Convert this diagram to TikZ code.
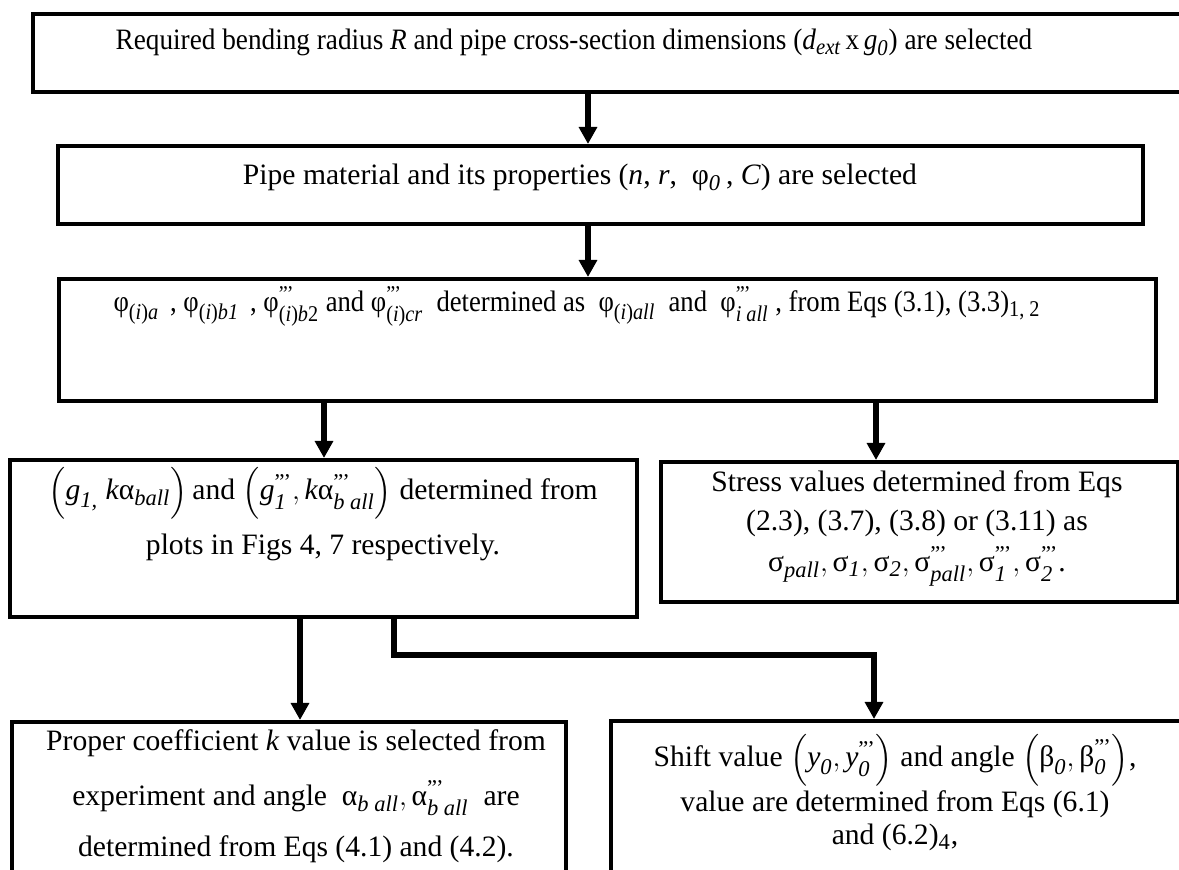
\documentclass[tikz,border=0pt]{standalone}
\usepackage{amsmath}
\usepackage{fontspec}
\setmainfont{Liberation Serif}
\usetikzlibrary{arrows.meta}
\def\defaultscriptratio{.76}
\newcommand{\tpr}{^{\text{''\kern-0.5pt'}}}
\newcommand{\subi}[1]{_{\text{(\textit{i})\textit{#1}}}}
\tikzset{
  box/.style={draw, line width=2pt, anchor=north west, inner sep=0pt},
  arr/.style={line width=2.6pt, -{Triangle[width=8.8pt,length=8.5pt]}},
  txt/.style={anchor=base, inner sep=0pt, font=\fontsize{14.8pt}{18pt}\selectfont}
}
\begin{document}
\begin{tikzpicture}[x=0.5pt,y=-0.5pt]
\useasboundingbox (0,0) rectangle (1179,870);
\clip (0,0) rectangle (1179,870);
% boxes
\node[box, minimum width=585pt, minimum height=39pt] (b1) at (31,12) {};
\node[box, minimum width=542.5pt, minimum height=39pt] (b2) at (56,144) {};
\node[box, minimum width=548.5pt, minimum height=61pt] (b3) at (57,277) {};
\node[box, minimum width=313.5pt, minimum height=78.5pt] (b4) at (8,458) {};
\node[box, minimum width=258.5pt, minimum height=70pt] (b5) at (659,460) {};
\node[box, minimum width=277pt, minimum height=90pt] (b6) at (10,720) {};
\node[box, minimum width=300pt, minimum height=90pt] (b7) at (609,719) {};
% texts
\node[txt, xscale=0.92] (t1) at (574,50) {Required bending radius \textit{R} and pipe cross-section dimensions (\textit{d}$_{\textit{ext}}$\,x\,\textit{g}$_{\textit{0}}$) are selected};
\node[txt] (t2) at (580,185) {Pipe material and its properties (\textit{n}, \textit{r}, \ φ$_{\textit{0}}$\,, \textit{C}) are selected};
\node[txt, xscale=0.9] (t3) at (577,312) {$\text{φ}\subi{a}$ \,, $\text{φ}\subi{b1}$ \,, $\text{φ}\tpr_{\text{(\textit{i})\textit{b}2}}$ and $\text{φ}\tpr\subi{cr}$ \ determined as \ $\text{φ}\subi{all}$ \ and \ $\text{φ}\tpr_{\textit{i all}}$ , from Eqs (3.1), (3.3)$_{\text{1, 2}}$};
\node[txt] (t4a) at (323,500) {$\Bigl(\textit{g}_{\textit{1,}}\ \textit{k}\text{α}_{\textit{ball}}\Bigr)$\,and $\Bigl(\textit{g}\tpr_{\textit{1}}, \textit{k}\text{α}\tpr_{\textit{b all}}\Bigr)$ determined from};
\node[txt] (t4b) at (323,555) {plots in Figs 4, 7 respectively.};
\node[txt] (t5a) at (917,492) {Stress values determined from Eqs};
\node[txt] (t5b) at (917,531) {(2.3), (3.7), (3.8) or (3.11) as};
\node[txt] (t5c) at (917,572) {$\text{σ}_{\textit{pall}}, \text{σ}_{\textit{1}}, \text{σ}_{\textit{2}}, \text{σ}\tpr_{\textit{pall}}, \text{σ}\tpr_{\textit{1}}, \text{σ}\tpr_{\textit{2}}$.};
\node[txt] (t6a) at (296,751) {Proper coefficient \textit{k} value is selected from};
\node[txt] (t6b) at (296,806) {experiment and angle \ $\text{α}_{\textit{b all}}, \text{α}\tpr_{\textit{b all}}$ \ are};
\node[txt] (t6c) at (296,857) {determined from Eqs (4.1) and (4.2).};
\node[txt] (t7a) at (895,767) {Shift value $\Bigl(\textit{y}_{\textit{0}}, \textit{y}\tpr_{\textit{0}}\Bigr)$ and angle $\Bigl(\text{β}_{\textit{0}}, \text{β}\tpr_{\textit{0}}\Bigr)$,};
\node[txt] (t7b) at (895,812) {value are determined from Eqs (6.1)};
\node[txt] (t7c) at (895,845) {and (6.2)$_{\text{4}}$,};
% connector x positions
\coordinate (xa) at (588,0);
\coordinate (xc) at (324,0);
\coordinate (xd) at (876,0);
\coordinate (xe) at (300,0);
\coordinate (xf) at (394,0);
\coordinate (xg) at (874,0);
\coordinate (ey) at (0,655);
\draw[arr] (b1.south -| xa) -- (b2.north -| xa);
\draw[arr] (b2.south -| xa) -- (b3.north -| xa);
\draw[arr] (b3.south -| xc) -- (b4.north -| xc);
\draw[arr] (b3.south -| xd) -- (b5.north -| xd);
\draw[arr] (b4.south -| xe) -- (b6.north -| xe);
\draw[arr] (b4.south -| xf) -- (ey -| xf) -- (ey -| xg) -- (b7.north -| xg);
\end{tikzpicture}
\end{document}
